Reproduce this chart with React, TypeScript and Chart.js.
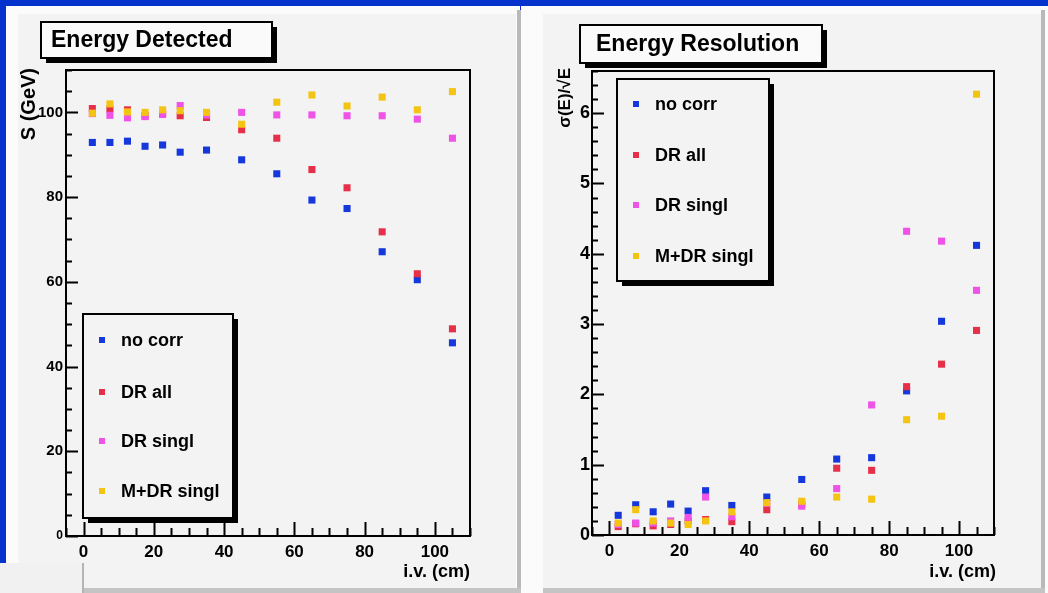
import React, { useEffect, useRef } from "react";
import { Chart, registerables } from "chart.js";

Chart.register(...registerables);

// ---------------- data ----------------
const ivPositions = [2.5, 7.5, 12.5, 17.5, 22.5, 27.5, 35, 45, 55, 65, 75, 85, 95, 105];
const seriesNames = ["no corr", "DR all", "DR singl", "M+DR singl"];

const energyNoCorr = [92.9, 92.9, 93.2, 92.0, 92.3, 90.6, 91.1, 88.8, 85.5, 79.3, 77.3, 67.1, 60.5, 45.6];
const energyDrAll = [100.9, 100.8, 100.6, 99.2, 99.7, 99.2, 98.8, 95.9, 93.9, 86.5, 82.2, 71.8, 61.9, 48.9];
const energyDrSingl = [99.7, 99.3, 98.7, 99.0, 99.5, 101.6, 99.4, 100.0, 99.4, 99.4, 99.2, 99.2, 98.4, 93.9];
const energyMDrSingl = [99.8, 102.0, 100.1, 100.0, 100.6, 100.4, 100.0, 97.2, 102.4, 104.1, 101.5, 103.6, 100.6, 104.9];

const resNoCorr = [0.28, 0.43, 0.33, 0.44, 0.34, 0.63, 0.42, 0.54, 0.79, 1.08, 1.10, 2.05, 3.04, 4.12];
const resDrAll = [0.12, 0.16, 0.13, 0.15, 0.20, 0.22, 0.19, 0.36, 0.44, 0.95, 0.92, 2.11, 2.43, 2.91];
const resDrSingl = [0.15, 0.17, 0.17, 0.20, 0.25, 0.54, 0.26, 0.45, 0.41, 0.66, 1.85, 4.32, 4.18, 3.48];
const resMDrSingl = [0.17, 0.36, 0.20, 0.17, 0.15, 0.20, 0.33, 0.46, 0.48, 0.54, 0.51, 1.64, 1.69, 6.27];

const xTickValues = [0, 20, 40, 60, 80, 100];
const energyTickValues = [0, 20, 40, 60, 80, 100];
const resolutionTickValues = [0, 1, 2, 3, 4, 5, 6];

// ---------------- styles ----------------
const seriesColors = ["#1538dc", "#e6304a", "#ee52e6", "#f4c412"];
const FONT = "'Liberation Sans', Arial, Helvetica, sans-serif";
const BLUE_BG = "#0432cc";
const PANEL_GREY = "#f3f3f3";

type Box = { x1: number; y1: number; x2: number; y2: number };

type PanelCfg = {
  ox: number; oy: number; w: number; h: number;
  area: Box; // page coords of plot frame
  xMin: number; xMax: number; yMin: number; yMax: number;
  yTicks: number[];
  yMinor: number; yMajor: number; xMinor: number; xMajor: number;
  yMajorLen: number; yMinorLen: number; xMajorLen: number; xMinorLen: number;
  yTickFont: number; xTickFont: number; yTickPad: number; xTickPad: number;
  smallZero: boolean;
  title: string; titleBox: Box; titleFont: number; titleTextX: number;
  legendBox: Box; legendMarkerX: number; legendTextX: number; legendRows: number[];
  yTitle: string; yTitleX: number; yTitleTop: number; yTitleFont: number;
  xTitle: string; xTitleRight: number; xTitleY: number;
  series: number[][];
};

function shadowBox(ctx: CanvasRenderingContext2D, b: Box, ox: number, oy: number, fill: string) {
  const x = b.x1 - ox, y = b.y1 - oy, w = b.x2 - b.x1, h = b.y2 - b.y1;
  ctx.fillStyle = "#000";
  ctx.fillRect(x + 5, y + 5, w, h);
  ctx.fillStyle = fill;
  ctx.fillRect(x, y, w, h);
  ctx.strokeStyle = "#000";
  ctx.lineWidth = 2;
  ctx.strokeRect(x, y, w, h);
}

function makeDecor(cfg: PanelCfg) {
  return {
    id: "rootDecor",
    beforeDatasetsDraw(chart: any) {
      const ctx: CanvasRenderingContext2D = chart.ctx;
      const a = chart.chartArea;
      const xs = chart.scales.x, ys = chart.scales.y;
      ctx.save();
      ctx.strokeStyle = "#000";
      ctx.lineWidth = 2;
      ctx.strokeRect(a.left, a.top, a.right - a.left, a.bottom - a.top);
      ctx.lineWidth = 2;
      ctx.beginPath();
      const eps = 1e-6;
      for (let v = Math.ceil(cfg.yMin / cfg.yMinor) * cfg.yMinor; v <= cfg.yMax + eps; v += cfg.yMinor) {
        const r = Math.round(v * 1000) / 1000;
        const major = Math.abs(r / cfg.yMajor - Math.round(r / cfg.yMajor)) < 1e-6;
        const py = Math.round(ys.getPixelForValue(r)) + 0.5;
        ctx.moveTo(a.left, py);
        ctx.lineTo(a.left + (major ? cfg.yMajorLen : cfg.yMinorLen), py);
      }
      for (let v = Math.ceil(cfg.xMin / cfg.xMinor) * cfg.xMinor; v <= cfg.xMax + eps; v += cfg.xMinor) {
        const major = Math.abs(v / cfg.xMajor - Math.round(v / cfg.xMajor)) < 1e-6;
        const px = Math.round(xs.getPixelForValue(v)) + 0.5;
        ctx.moveTo(px, a.bottom);
        ctx.lineTo(px, a.bottom - (major ? cfg.xMajorLen : cfg.xMinorLen));
      }
      ctx.stroke();
      ctx.restore();
    },
    afterDraw(chart: any) {
      const ctx: CanvasRenderingContext2D = chart.ctx;
      const { ox, oy } = cfg;
      ctx.save();
      // title
      shadowBox(ctx, cfg.titleBox, ox, oy, "#fafafa");
      ctx.fillStyle = "#000";
      ctx.font = `bold ${cfg.titleFont}px ${FONT}`;
      ctx.textBaseline = "middle";
      ctx.textAlign = "left";
      ctx.fillText(cfg.title, cfg.titleTextX - ox, (cfg.titleBox.y1 + cfg.titleBox.y2) / 2 + 1 - oy);
      // legend
      shadowBox(ctx, cfg.legendBox, ox, oy, PANEL_GREY);
      ctx.font = `bold 18px ${FONT}`;
      seriesNames.forEach((name, i) => {
        const y = cfg.legendRows[i] - oy;
        ctx.fillStyle = seriesColors[i];
        ctx.fillRect(cfg.legendMarkerX - ox - 3, y - 3, 6, 6);
        ctx.fillStyle = "#000";
        ctx.fillText(name, cfg.legendTextX - ox, y + 1);
      });
      // axis titles
      ctx.font = `bold ${cfg.yTitleFont}px ${FONT}`;
      ctx.save();
      ctx.translate(cfg.yTitleX - ox, cfg.yTitleTop - oy);
      ctx.rotate(-Math.PI / 2);
      ctx.textAlign = "right";
      ctx.textBaseline = "middle";
      ctx.fillText(cfg.yTitle, 0, 0);
      ctx.restore();
      ctx.font = `bold 18px ${FONT}`;
      ctx.textAlign = "right";
      ctx.textBaseline = "middle";
      ctx.fillText(cfg.xTitle, cfg.xTitleRight - ox, cfg.xTitleY - oy);
      ctx.restore();
    },
  };
}

function Panel({ cfg }: { cfg: PanelCfg }) {
  const ref = useRef<HTMLCanvasElement | null>(null);
  useEffect(() => {
    if (!ref.current) return;
    const a = cfg.area;
    const orders = [4, 3, 2, 1];
    const chart = new Chart(ref.current, {
      type: "scatter",
      data: {
        datasets: cfg.series.map((vals, i) => ({
          label: seriesNames[i],
          data: vals.map((v, k) => ({ x: ivPositions[k], y: v })),
          pointStyle: "rect",
          pointRadius: 5,
          pointBorderWidth: 0,
          borderWidth: 0,
          backgroundColor: seriesColors[i],
          borderColor: seriesColors[i],
          order: orders[i],
          showLine: false,
        })),
      },
      options: {
        animation: false,
        responsive: false,
        maintainAspectRatio: false,
        devicePixelRatio: 1,
        events: [],
        layout: {
          padding: {
            left: 0,
            top: a.y1 - cfg.oy,
            right: cfg.ox + cfg.w - a.x2,
            bottom: 0,
          },
        },
        plugins: { legend: { display: false }, tooltip: { enabled: false }, title: { display: false } },
        scales: {
          x: {
            type: "linear",
            min: cfg.xMin,
            max: cfg.xMax,
            grid: { display: false, drawTicks: false },
            border: { display: false },
            afterBuildTicks: (s: any) => { s.ticks = xTickValues.map((v) => ({ value: v })); },
            afterFit: (s: any) => { s.height = cfg.oy + cfg.h - a.y2; },
            ticks: {
              color: "#000",
              padding: cfg.xTickPad,
              maxRotation: 0,
              autoSkip: false,
              font: { family: FONT, weight: "bold", size: cfg.xTickFont },
            },
          },
          y: {
            type: "linear",
            min: cfg.yMin,
            max: cfg.yMax,
            grid: { display: false, drawTicks: false },
            border: { display: false },
            afterBuildTicks: (s: any) => { s.ticks = cfg.yTicks.map((v) => ({ value: v })); },
            afterFit: (s: any) => { s.width = a.x1 - cfg.ox; },
            ticks: {
              color: "#000",
              padding: cfg.yTickPad,
              autoSkip: false,
              font: (c: any) => ({
                family: FONT,
                weight: "bold",
                size: cfg.smallZero && c.tick && c.tick.value === 0 ? 12 : cfg.yTickFont,
              }),
            },
          },
        },
      },
      plugins: [makeDecor(cfg)],
    } as any);
    return () => chart.destroy();
  }, [cfg]);
  return (
    <canvas
      ref={ref}
      width={cfg.w}
      height={cfg.h}
      style={{ position: "absolute", left: cfg.ox, top: cfg.oy, width: cfg.w, height: cfg.h }}
    />
  );
}

const leftCfg: PanelCfg = {
  ox: 0, oy: 0, w: 520, h: 593,
  area: { x1: 66, y1: 70, x2: 470, y2: 536 },
  xMin: -5, xMax: 110, yMin: 0, yMax: 110,
  yTicks: energyTickValues,
  yMinor: 5, yMajor: 20, xMinor: 5, xMajor: 20,
  yMajorLen: 12, yMinorLen: 6, xMajorLen: 14, xMinorLen: 8,
  yTickFont: 15, xTickFont: 17, yTickPad: 3, xTickPad: 6,
  smallZero: true,
  title: "Energy Detected", titleBox: { x1: 41, y1: 22, x2: 272, y2: 58 }, titleFont: 23, titleTextX: 51,
  legendBox: { x1: 83, y1: 314, x2: 233, y2: 518 }, legendMarkerX: 102, legendTextX: 121,
  legendRows: [340, 392, 441, 491],
  yTitle: "S (GeV)", yTitleX: 29, yTitleTop: 68, yTitleFont: 20,
  xTitle: "i.v. (cm)", xTitleRight: 470, xTitleY: 572,
  series: [energyNoCorr, energyDrAll, energyDrSingl, energyMDrSingl],
};

const rightCfg: PanelCfg = {
  ox: 521, oy: 0, w: 527, h: 593,
  area: { x1: 592, y1: 71, x2: 994, y2: 535 },
  xMin: -5, xMax: 110, yMin: 0, yMax: 6.6,
  yTicks: resolutionTickValues,
  yMinor: 0.2, yMajor: 1, xMinor: 5, xMajor: 20,
  yMajorLen: 12, yMinorLen: 6, xMajorLen: 14, xMinorLen: 8,
  yTickFont: 18, xTickFont: 17, yTickPad: 2, xTickPad: 6,
  smallZero: false,
  title: "Energy Resolution", titleBox: { x1: 580, y1: 25, x2: 822, y2: 63 }, titleFont: 23, titleTextX: 596,
  legendBox: { x1: 617, y1: 79, x2: 769, y2: 281 }, legendMarkerX: 636, legendTextX: 655,
  legendRows: [104, 155, 205, 256],
  yTitle: "σ(E)/√E", yTitleX: 565, yTitleTop: 68, yTitleFont: 17,
  xTitle: "i.v. (cm)", xTitleRight: 996, xTitleY: 572,
  series: [resNoCorr, resDrAll, resDrSingl, resMDrSingl],
};

export default function App() {
  const abs = (l: number, t: number, w: number, h: number, bg: string): React.CSSProperties => ({
    position: "absolute", left: l, top: t, width: w, height: h, background: bg,
  });
  return (
    <div style={{ position: "absolute", left: 0, top: 0, width: 1048, height: 593, overflow: "hidden", background: BLUE_BG }}>
      {/* left picture */}
      <div style={abs(6, 6, 514, 587, "#fbfbfb")} />
      <div style={abs(18, 14, 498, 574, PANEL_GREY)} />
      <div style={abs(517, 10, 4, 583, "#b9b9b9")} />
      <div style={abs(18, 588, 503, 5, "#c4c4c4")} />
      {/* right picture */}
      <div style={abs(521, 6, 527, 587, "#fbfbfb")} />
      <div style={abs(543, 14, 498, 574, PANEL_GREY)} />
      <div style={abs(1041, 10, 4, 583, "#b9b9b9")} />
      <div style={abs(543, 588, 502, 5, "#c4c4c4")} />
      {/* bottom-left corner box */}
      <div style={abs(0, 563, 82, 30, "#f1f1f1")} />
      <div style={abs(82, 563, 2, 30, "#b4b4b4")} />
      <Panel cfg={leftCfg} />
      <Panel cfg={rightCfg} />
    </div>
  );
}
